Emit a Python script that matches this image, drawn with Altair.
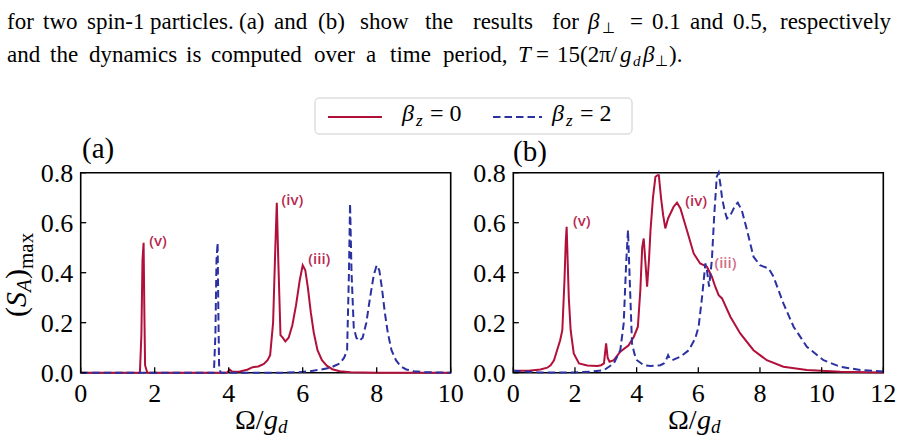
import altair as alt
import pandas as pd

# ---------------------------------------------------------------- data ----
# panel (a): beta_perp = 0.1
a_red_x = [0, 1.0, 1.60, 1.64, 1.67, 1.70, 1.72, 1.74, 1.77, 1.80, 2.5, 3.5, 3.95,
           4.03, 4.10, 4.3, 4.5, 4.65, 4.8, 4.95, 5.05, 5.12, 5.20, 5.26, 5.30,
           5.34, 5.40, 5.46, 5.53, 5.62, 5.72, 5.82, 5.92, 6.00, 6.07, 6.14, 6.22,
           6.30, 6.40, 6.52, 6.65, 6.80, 7.0, 7.3, 8.0, 10.0]
a_red_y = [0, 0, 0, 0.15, 0.45, 0.52, 0.25, 0.03, 0.015, 0, 0, 0, 0.0,
           0.012, 0.004, 0.005, 0.012, 0.022, 0.025, 0.035, 0.050, 0.07, 0.20, 0.50, 0.68,
           0.45, 0.15, 0.14, 0.125, 0.14, 0.19, 0.27, 0.37, 0.43, 0.41, 0.34, 0.24,
           0.16, 0.09, 0.05, 0.028, 0.014, 0.006, 0.002, 0, 0]
a_blue_x = [0, 3.0, 3.60, 3.64, 3.67, 3.70, 3.72, 3.74, 3.78, 4.5, 5.5, 5.9, 6.2,
            6.5, 6.75, 7.0, 7.12, 7.20, 7.25, 7.28, 7.32, 7.38, 7.45, 7.53, 7.62,
            7.72, 7.82, 7.92, 8.00, 8.07, 8.14, 8.22, 8.30, 8.40, 8.52, 8.65, 8.8,
            9.0, 9.3, 10]
a_blue_y = [0, 0, 0, 0.15, 0.45, 0.52, 0.25, 0.03, 0, 0, 0, 0.002, 0.006,
            0.013, 0.02, 0.037, 0.06, 0.09, 0.40, 0.677, 0.40, 0.18, 0.14, 0.127, 0.14,
            0.20, 0.30, 0.39, 0.43, 0.41, 0.34, 0.24, 0.16, 0.09, 0.05, 0.025, 0.013,
            0.006, 0.002, 0]

# panel (b): beta_perp = 0.5
b_red_x = [0, 0.5, 0.88, 1.1, 1.21, 1.32, 1.42, 1.52, 1.59, 1.66, 1.70, 1.73, 1.77,
           1.80, 1.86, 1.96, 2.13, 2.4, 2.72, 2.85, 2.94, 3.01, 3.06, 3.12, 3.26,
           3.47, 3.74, 3.91, 4.04, 4.12, 4.18, 4.23, 4.28, 4.34, 4.40, 4.45, 4.53,
           4.61, 4.68, 4.72, 4.79, 4.86, 4.93, 5.02, 5.2, 5.31, 5.42, 5.63, 5.85,
           6.06, 6.28, 6.44, 6.55, 6.66, 6.77, 7.04, 7.36, 7.79, 8.22, 8.76, 9.52,
           10.6, 12]
b_red_y = [0.008, 0.008, 0.013, 0.02, 0.03, 0.05, 0.09, 0.13, 0.17, 0.37, 0.52, 0.584, 0.42,
           0.30, 0.17, 0.077, 0.037, 0.029, 0.027, 0.03, 0.037, 0.117, 0.06, 0.044, 0.05,
           0.084, 0.11, 0.144, 0.184, 0.33, 0.50, 0.537, 0.45, 0.344, 0.45, 0.57, 0.70,
           0.784, 0.79, 0.79, 0.70, 0.63, 0.577, 0.617, 0.664, 0.68, 0.657, 0.57, 0.477,
           0.437, 0.424, 0.384, 0.344, 0.31, 0.297, 0.224, 0.157, 0.09, 0.05, 0.024, 0.011,
           0.004, 0.001]
b_blue_x = [0, 0.5, 0.88, 1.96, 2.5, 2.94, 3.26, 3.47, 3.58, 3.66, 3.72, 3.78, 3.85,
            3.93, 4.01, 4.23, 4.45, 4.77, 4.88, 4.95, 5.02, 5.08, 5.15, 5.42, 5.69,
            5.9, 6.01, 6.12, 6.23, 6.28, 6.35, 6.44, 6.52, 6.6, 6.66, 6.72, 6.77,
            6.85, 6.93, 7.04, 7.2, 7.28, 7.41, 7.58, 7.79, 8.0, 8.28, 8.44, 8.76,
            9.09, 9.52, 10.06, 10.6, 11.25, 12]
b_blue_y = [0.008, 0.004, 0.001, 0.001, 0.004, 0.01, 0.037, 0.09, 0.197, 0.437, 0.57, 0.357, 0.117,
            0.075, 0.05, 0.03, 0.027, 0.03, 0.037, 0.05, 0.07, 0.055, 0.05, 0.064, 0.09,
            0.137, 0.184, 0.30, 0.437, 0.41, 0.344, 0.45, 0.637, 0.784, 0.8, 0.75, 0.70,
            0.65, 0.617, 0.63, 0.67, 0.68, 0.65, 0.57, 0.464, 0.43, 0.417, 0.384, 0.277,
            0.184, 0.104, 0.05, 0.024, 0.011, 0.005]

x_ticks_a = [0, 2, 4, 6, 8, 10]
x_ticks_b = [0, 2, 4, 6, 8, 10, 12]
y_ticks = [0.0, 0.2, 0.4, 0.6, 0.8]
y_tick_labels = ["0.0", "0.2", "0.4", "0.6", "0.8"]

note_labels = ["(v)", "(iv)", "(iii)"]
notes_a_x = [2.09, 5.72, 6.45]
notes_a_y = [0.527, 0.691, 0.453]
notes_b_x = [2.22, 5.93, 6.88]
notes_b_y = [0.607, 0.685, 0.438]

# ------------------------------------------------------------- styling ----
W, H = 902, 445
A_LEFT, A_RIGHT = 80.7, 450.7
B_LEFT, B_RIGHT = 513.3, 883.3
P_TOP, P_BOTTOM = 172.7, 372.7

SERIF = "Liberation Serif"
RED = "#b0103a"
BLUE = "#2b31a0"
NOTE = "#b8284f"
NOTE_LIGHT = "#cf6f88"
DASH = [7.5, 4]
TICK = 5.5
TICK_FONT = 26

ONE = pd.DataFrame({"k": [0]})


def panel(red_x, red_y, blue_x, blue_y, xmax, left, right, ticks, nx, ny, note_colors):
    xs = alt.Scale(domain=[0, xmax], range=[left, right], nice=False, zero=False)
    ys = alt.Scale(domain=[0, 0.8], range=[P_BOTTOM, P_TOP], nice=False, zero=False)

    frame = alt.Chart(ONE).mark_rect(fillOpacity=0, stroke="black", strokeWidth=1.6).encode(
        x=alt.XDatum(0, scale=xs, axis=None), x2=alt.X2Datum(xmax),
        y=alt.YDatum(0, scale=ys, axis=None), y2=alt.Y2Datum(0.8))

    xt = pd.DataFrame({"t": ticks, "lab": [str(t) for t in ticks]})
    yt = pd.DataFrame({"t": y_ticks, "lab": y_tick_labels})

    # inward ticks
    x_tick_marks = alt.Chart(xt).mark_rule(
        color="black", strokeWidth=1.3, y2Offset=-TICK).encode(
        x=alt.X("t:Q", scale=xs, axis=None),
        y=alt.YDatum(0, scale=ys, axis=None), y2=alt.Y2Datum(0))
    y_tick_marks = alt.Chart(yt).mark_rule(
        color="black", strokeWidth=1.3, x2Offset=TICK).encode(
        y=alt.Y("t:Q", scale=ys, axis=None),
        x=alt.XDatum(0, scale=xs, axis=None), x2=alt.X2Datum(0))

    # tick labels
    x_tick_text = alt.Chart(xt).mark_text(
        font=SERIF, fontSize=TICK_FONT, color="black", align="center",
        baseline="alphabetic", yOffset=28.8).encode(
        x=alt.X("t:Q", scale=xs, axis=None),
        y=alt.YDatum(0, scale=ys, axis=None), text="lab:N")
    y_tick_text = alt.Chart(yt).mark_text(
        font=SERIF, fontSize=TICK_FONT, color="black", align="right",
        baseline="alphabetic", xOffset=-7.5, yOffset=9.5).encode(
        y=alt.Y("t:Q", scale=ys, axis=None),
        x=alt.XDatum(0, scale=xs, axis=None), text="lab:N")

    red = alt.Chart(pd.DataFrame({"x": red_x, "y": red_y})).mark_line(
        color=RED, strokeWidth=2).encode(
        x=alt.X("x:Q", scale=xs, axis=None),
        y=alt.Y("y:Q", scale=ys, axis=None))
    blue = alt.Chart(pd.DataFrame({"x": blue_x, "y": blue_y})).mark_line(
        color=BLUE, strokeWidth=2, strokeDash=DASH).encode(
        x=alt.X("x:Q", scale=xs, axis=None),
        y=alt.Y("y:Q", scale=ys, axis=None))

    notes = alt.Chart(pd.DataFrame({"label": note_labels, "x": nx, "y": ny,
                                    "c": note_colors})).mark_text(
        font="Open Sans", fontSize=15, fontWeight=600, align="center",
        baseline="middle").encode(
        x=alt.X("x:Q", scale=xs, axis=None),
        y=alt.Y("y:Q", scale=ys, axis=None),
        text="label:N",
        color=alt.Color("c:N", scale=None))

    return alt.layer(frame, red, blue, x_tick_marks, y_tick_marks,
                     x_tick_text, y_tick_text, notes)


def label(txt, x, y, size, font=SERIF, style="normal", align="left",
          baseline="alphabetic", angle=0, color="black"):
    return alt.Chart(ONE).mark_text(
        text=txt, font=font, fontSize=size, fontStyle=style, align=align,
        baseline=baseline, angle=angle, color=color).encode(
        x=alt.value(x), y=alt.value(y))


panel_a = panel(a_red_x, a_red_y, a_blue_x, a_blue_y, 10, A_LEFT, A_RIGHT, x_ticks_a,
                notes_a_x, notes_a_y, [NOTE, NOTE, NOTE])
panel_b = panel(b_red_x, b_red_y, b_blue_x, b_blue_y, 12, B_LEFT, B_RIGHT, x_ticks_b,
                notes_b_x, notes_b_y, [NOTE, NOTE, NOTE_LIGHT])

deco = []

# caption text above the figure, set word by word (justified line)
CAP = 23
SUB = 15
line1 = [("for", 7), ("two", 43), ("spin-1", 87), ("particles.", 150), ("(a)", 239),
         ("and", 274), ("(b)", 318), ("show", 360), ("the", 425), ("results", 473),
         ("for", 552), ("=", 630), ("0.1", 652), ("and", 690), ("0.5,", 733),
         ("respectively", 780)]
line2 = [("and", 7), ("the", 50), ("dynamics", 89), ("is", 186), ("computed", 211),
         ("over", 314), ("a", 366), ("time", 390), ("period,", 443), ("=", 536),
         ("15(2π/", 557), (").", 669)]
for word, x in line1:
    deco.append(label(word, x, 29, CAP))
for word, x in line2:
    deco.append(label(word, x, 62, CAP))
deco += [
    label("β", 588, 29, CAP, style="italic"),
    label("⊥", 602, 33, SUB),
    label("T", 518, 62, CAP, style="italic"),
    label("g", 620, 62, CAP, style="italic"),
    label("d", 633, 66, SUB, style="italic"),
    label("β", 643, 62, CAP, style="italic"),
    label("⊥", 655, 66, SUB),
]

# legend
legend_box = alt.Chart(ONE).mark_rect(
    fill="white", stroke="#cccccc", strokeWidth=1, cornerRadius=4).encode(
    x=alt.value(315), x2=alt.value(632), y=alt.value(98), y2=alt.value(134))
legend_red = alt.Chart(ONE).mark_rule(color=RED, strokeWidth=2).encode(
    x=alt.value(328), x2=alt.value(382), y=alt.value(117))
legend_blue = alt.Chart(ONE).mark_rule(color=BLUE, strokeWidth=2, strokeDash=DASH).encode(
    x=alt.value(493), x2=alt.value(542), y=alt.value(117))
deco += [
    legend_box, legend_red, legend_blue,
    label("β", 402, 121, 24, style="italic"),
    label("z", 416, 126, 17, style="italic"),
    label("= 0", 430, 121, 24),
    label("β", 552, 121, 24, style="italic"),
    label("z", 566, 126, 17, style="italic"),
    label("= 2", 580, 121, 24),
]

# panel tags
deco += [
    label("(a)", 82, 158, 29),
    label("(b)", 513, 161, 29),
]

# x-axis titles
for x0 in (235, 668):
    deco += [
        label("Ω/", x0, 429, 28),
        label("g", x0 + 29, 429, 28, style="italic"),
        label("d", x0 + 43, 433, 19, style="italic"),
    ]

# y-axis title, written bottom-to-top
deco += [
    label("(", 26, 317, 30, angle=270),
    label("S", 26, 307, 30, style="italic", angle=270),
    label("A", 31, 292, 21, style="italic", angle=270),
    label(")", 26, 279, 30, angle=270),
    label("max", 33, 269, 21, angle=270),
]

chart = alt.layer(panel_a, panel_b, *deco).resolve_scale(
    x="independent", y="independent"
).properties(
    width=W, height=H, padding=0,
    autosize=alt.AutoSizeParams(type="none"),
    background="white",
).configure_view(strokeWidth=0)

chart.save("out.html", embed_options={"renderer": "svg", "actions": False})
